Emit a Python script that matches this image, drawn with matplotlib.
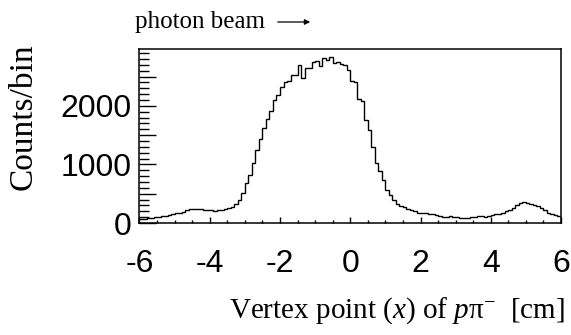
import numpy as np
import matplotlib
matplotlib.use("Agg")
import matplotlib.pyplot as plt
from matplotlib.ticker import MultipleLocator, FixedLocator

# histogram: 120 bins of 0.1 cm from -6 to 6
x_min, x_max, n_bins = -6.0, 6.0, 120
counts = [
    60, 70, 80, 85, 95, 105, 115, 125, 140, 150,
    165, 175, 195, 215, 240, 245, 240, 235, 225, 220,
    215, 205, 225, 215, 240, 250, 270, 320, 400, 520,
    680, 820, 1020, 1250, 1430, 1620, 1770, 1910, 2100, 2180,
    2330, 2410, 2420, 2530, 2520, 2700, 2470, 2640, 2650, 2750,
    2760, 2680, 2810, 2790, 2840, 2730, 2740, 2720, 2690, 2620,
    2420, 2400, 2120, 2080, 1760, 1580, 1300, 1020, 880, 730,
    560, 480, 390, 320, 290, 270, 240, 215, 200, 170,
    165, 165, 155, 150, 140, 125, 110, 110, 115, 105,
    100, 90, 85, 90, 95, 100, 115, 120, 110, 120,
    135, 150, 160, 170, 200, 220, 250, 300, 340, 355,
    350, 330, 305, 290, 260, 230, 170, 160, 140, 125,
]
y_max = 2970
x_ticks = [-6, -4, -2, 0, 2, 4, 6]
y_ticks = [0, 1000, 2000]

serif = ["Liberation Serif", "DejaVu Serif"]
sans = ["Liberation Sans", "DejaVu Sans"]
plt.rcParams["mathtext.fontset"] = "custom"
plt.rcParams["mathtext.rm"] = "Liberation Serif"
plt.rcParams["mathtext.it"] = "Liberation Serif:italic"

fig = plt.figure(figsize=(5.71, 3.35), dpi=100)
ax = fig.add_axes([0.2443, 0.3343, 0.7382, 0.5194])

edges = np.linspace(x_min, x_max, n_bins + 1)
ax.stairs(counts, edges, color="black", lw=1.0, baseline=None)

ax.set_xlim(x_min, x_max)
for s in ax.spines.values():
    s.set_linewidth(1.1)

ax.xaxis.set_major_locator(FixedLocator(x_ticks))
ax.xaxis.set_minor_locator(MultipleLocator(0.5))
y_major = np.arange(0, y_max, 500)
ax.yaxis.set_major_locator(FixedLocator(y_major))
ax.yaxis.set_minor_locator(MultipleLocator(100))
ax.set_xticklabels([str(t) for t in x_ticks], family=sans, fontsize=23)
ax.set_yticklabels([str(int(t)) if t in y_ticks else "" for t in y_major],
                   family=sans, fontsize=23)
ax.set_ylim(0, y_max)
ax.tick_params(axis="x", which="major", direction="in", length=4, width=1, pad=19)
ax.tick_params(axis="x", which="minor", direction="in", length=2.3, width=1)
ax.tick_params(axis="y", which="major", direction="in", length=12, width=1, pad=6)
ax.tick_params(axis="y", which="minor", direction="in", length=7, width=1)

fig.text(23 / 571, 1 - 117 / 335, "Counts/bin", rotation=90, ha="center", va="center",
         family=serif, fontsize=24)
fig.text(565 / 571, 1 - 318 / 335, r"Vertex point ($x$) of $p\mathrm{\pi}^{-}$  [cm]",
         ha="right", va="baseline", family=serif, fontsize=21)
fig.text(135 / 571, 1 - 28 / 335, "photon beam", ha="left", va="baseline",
         family=serif, fontsize=18)
ax.annotate("", xy=(313 / 571, 1 - 22 / 335), xytext=(275 / 571, 1 - 22 / 335),
            xycoords="figure fraction",
            arrowprops=dict(arrowstyle="-|>", lw=0.9, color="black", mutation_scale=8))

fig.savefig("out.png", dpi=100)
